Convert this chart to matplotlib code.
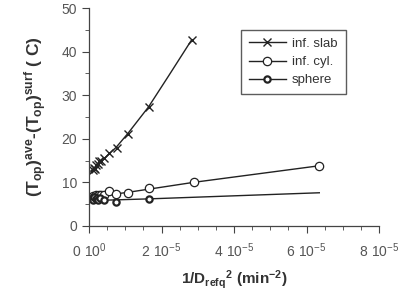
import matplotlib.pyplot as plt
from matplotlib.lines import Line2D
from matplotlib.ticker import MultipleLocator

plt.rcParams['font.family'] = ['Liberation Sans', 'DejaVu Sans']
plt.rcParams['mathtext.default'] = 'regular'

# data points (x in units of 1e-5 min^-2)
slab_x = [0.10, 0.13, 0.16, 0.20, 0.24, 0.28, 0.33, 0.40, 0.56, 0.76, 1.07, 1.64, 2.83]
slab_y = [12.8, 13.3, 13.0, 13.9, 14.2, 14.9, 15.0, 15.6, 16.8, 17.9, 21.2, 27.3, 42.7]
cyl_x = [0.10, 0.12, 0.15, 0.18, 0.22, 0.27, 0.32, 0.42, 0.56, 0.745, 1.07, 1.65, 2.89, 6.35]
cyl_y = [6.4, 6.9, 6.6, 7.0, 6.8, 7.1, 7.2, 7.0, 8.0, 7.3, 7.6, 8.7, 10.0, 13.8]
sph_x = [0.10, 0.12, 0.15, 0.18, 0.22, 0.26, 0.30, 0.42, 0.745, 1.65]
sph_y = [6.3, 6.0, 6.6, 6.2, 6.5, 6.0, 6.4, 5.9, 5.5, 6.2]

# fitted curves
slab_fit_x = [0.05, 0.30, 0.56, 0.745, 1.07, 1.64, 2.20, 2.83]
slab_fit_y = [12.6, 14.5, 16.6, 18.0, 21.2, 27.3, 34.5, 42.7]
cyl_fit_x = [0.05, 1.07, 2.89, 6.35]
cyl_fit_y = [6.6, 7.7, 10.0, 13.8]
sph_fit_x = [0.05, 1.65, 6.35]
sph_fit_y = [5.8, 6.2, 7.6]

xticks = [0, 2, 4, 6, 8]
xticklabels = [r'$0\ 10^{0}$', r'$2\ 10^{-5}$', r'$4\ 10^{-5}$', r'$6\ 10^{-5}$', r'$8\ 10^{-5}$']

fig = plt.figure(figsize=(4.18, 2.98), dpi=100)
ax = fig.add_axes([0.213, 0.242, 0.694, 0.731])

lc = '#222222'
ax.plot(slab_fit_x, slab_fit_y, color=lc, lw=1.0)
ax.plot(cyl_fit_x, cyl_fit_y, color=lc, lw=1.0)
ax.plot(sph_fit_x, sph_fit_y, color=lc, lw=1.0)

ax.plot(slab_x, slab_y, 'x', color=lc, ms=6, mew=1.0)
ax.plot(cyl_x, cyl_y, 'o', mfc='white', mec=lc, ms=6, mew=0.9)
ax.plot(sph_x, sph_y, 'o', mfc='white', mec=lc, ms=4.5, mew=1.6)

ax.set_xlim(0, 8)
ax.set_ylim(0, 50)
ax.set_xticks(xticks)
ax.set_xticklabels(xticklabels)
ax.xaxis.set_minor_locator(MultipleLocator(0.5))
ax.yaxis.set_major_locator(MultipleLocator(10))
ax.yaxis.set_minor_locator(MultipleLocator(5))
for s in ['top', 'right']:
    ax.spines[s].set_visible(False)
for s in ['left', 'bottom']:
    ax.spines[s].set_color('#444444')
    ax.spines[s].set_linewidth(0.9)
ax.tick_params(which='both', direction='out', colors='#444444', labelsize=10, labelcolor='#555555')
ax.tick_params(which='major', length=5)
ax.tick_params(which='minor', length=3)
ax.tick_params(axis='x', pad=6)

ax.set_xlabel(r'1/D$_{refq}$$^{2}$ (min$^{-2}$)', fontsize=11, fontweight='bold', color='#333333',
              labelpad=6)
ax.set_ylabel(r'(T$_{op}$)$^{ave}$-(T$_{op}$)$^{surf}$ ( C)', fontsize=12.5, fontweight='bold',
              color='#333333', labelpad=9)

handles = [
    Line2D([], [], color=lc, lw=1.0, marker='x', ms=6, mew=1.0),
    Line2D([], [], color=lc, lw=1.0, marker='o', mfc='white', mec=lc, ms=6, mew=0.9),
    Line2D([], [], color=lc, lw=1.0, marker='o', mfc='white', mec=lc, ms=4.5, mew=1.6),
]
leg = ax.legend(handles, ['inf. slab', 'inf. cyl.', 'sphere'], loc='upper left',
                bbox_to_anchor=(0.5, 0.93), fontsize=9.5, frameon=True, fancybox=False,
                handlelength=2.8, handletextpad=0.5, borderpad=0.6, labelspacing=0.45,
                edgecolor='#333333')
leg.get_frame().set_linewidth(1.0)
for t in leg.get_texts():
    t.set_color('#333333')

fig.savefig('out.png', dpi=100)
